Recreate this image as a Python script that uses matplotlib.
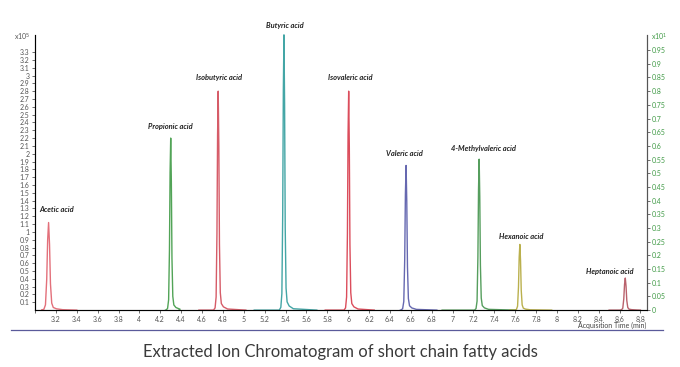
import matplotlib.pyplot as plt
from matplotlib.lines import Line2D

plt.rcParams["font.family"] = ["Lato", "DejaVu Sans"]

# peaks: name, retention time (min), height (x10^5 counts)
names = ["Acetic acid", "Propionic acid", "Isobutyric acid", "Butyric acid", "Isovaleric acid",
         "Valeric acid", "4-Methylvaleric acid", "Hexanoic acid", "Heptanoic acid"]
rt = [3.13, 4.30, 4.755, 5.385, 6.005, 6.555, 7.255, 7.645, 8.655]
heights = [1.12, 2.20, 2.80, 3.52, 2.80, 1.85, 1.93, 0.84, 0.41]
widths = [1.5, 1.0, 1.0, 1.0, 1.0, 1.1, 1.0, 1.1, 1.2]
trace_start = [3.08, 4.25, 4.57, 5.10, 5.78, 6.50, 6.90, 7.55, 8.50]
trace_end = [3.40, 4.38, 5.02, 5.70, 6.25, 6.85, 7.60, 7.95, 8.80]
colors = ["#e0606c", "#3f9a45", "#d24a58", "#2f9c9c", "#d83a4a",
          "#5558a8", "#43944c", "#b3a83a", "#b2505c"]

# label positions (min, x10^5)
label_x = [3.21, 4.30, 4.76, 5.39, 6.02, 6.54, 7.30, 7.66, 8.51]
label_y = [1.29, 2.35, 2.98, 3.64, 2.97, 2.00, 2.07, 0.94, 0.50]

# common peak profile: offset from apex (min), relative height
shape_dx = [-0.045, -0.03, -0.02, -0.012, -0.006, 0.0, 0.006, 0.012, 0.02, 0.03, 0.05, 0.09]
shape_h = [0.0, 0.01, 0.06, 0.35, 0.8, 1.0, 0.75, 0.3, 0.08, 0.03, 0.015, 0.005]

fig = plt.figure(figsize=(6.8, 3.67), dpi=100)
ax = fig.add_axes([0.0515, 0.155, 0.8995, 0.75])

for i in range(len(names)):
    xs = [trace_start[i]] + [rt[i] + d * widths[i] for d in shape_dx] + [trace_end[i]]
    ys = [0.0] + [heights[i] * h for h in shape_h] + [0.0]
    ax.plot(xs, ys, color=colors[i], lw=1.0, alpha=0.9, clip_on=False)
    ax.text(label_x[i], label_y[i], names[i], ha="center", va="center",
            fontsize=5.4, fontweight="bold", fontstyle="italic", color="#222222", clip_on=False)

ax.set_xlim(3.0, 8.86)
ax.set_ylim(0, 3.52)

xt = [3 + 0.2 * k for k in range(30)]
ax.set_xticks(xt)
ax.set_xticklabels(["" if k == 0 else ("%g" % round(v, 1)) for k, v in enumerate(xt)])
yt = [0.1 * k for k in range(1, 34)]
ax.set_yticks(yt)
ax.set_yticklabels(["%g" % round(v, 1) for v in yt])

for s in ["left", "bottom", "right"]:
    ax.spines[s].set_color("#555555")
    ax.spines[s].set_linewidth(0.8)
ax.spines["top"].set_visible(False)
ax.tick_params(labelsize=5, colors="#555555", length=2.5, width=0.6, pad=1.5)

ax2 = ax.twinx()
ax2.set_ylim(0, 3.52 / 3.5)
rt2 = [0.05 * k for k in range(20)]
ax2.set_yticks(rt2)
ax2.set_yticklabels(["%g" % round(v, 2) for v in rt2])
ax2.tick_params(labelsize=5, colors="#555555", labelcolor="#3f9a45", length=2.5, width=0.6, pad=1.5)
ax2.spines["top"].set_visible(False)
ax2.spines["right"].set_color("#555555")
ax2.spines["right"].set_linewidth(0.8)

fig.text(0.021, 0.897, r"x10$^{5}$", fontsize=5, color="#555555", va="center")
fig.text(0.957, 0.897, r"x10$^{1}$", fontsize=5, color="#3f9a45", va="center")
fig.text(0.95, 0.113, "Acquisition Time (min)", fontsize=5, color="#444444", ha="right", va="center")

fig.add_artist(Line2D([0.016, 0.975], [0.101, 0.101], color="#5a5a9a", lw=0.9))
fig.text(0.5, 0.041, "Extracted Ion Chromatogram of short chain fatty acids",
         fontsize=11.9, color="#3a3a3a", ha="center", va="center")

plt.savefig("out.png", dpi=100)
